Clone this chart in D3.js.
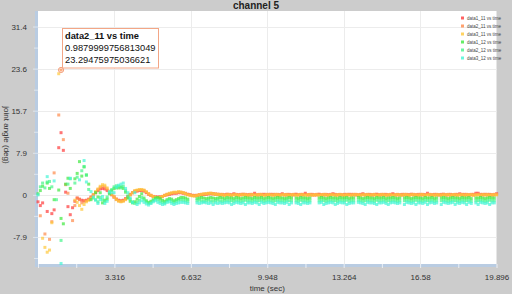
<!DOCTYPE html>
<html>
<head>
<meta charset="utf-8">
<script src="https://cdn.jsdelivr.net/npm/d3@7"></script>
<style>
html,body{margin:0;padding:0;background:#ccc;}
svg{display:block;font-family:"Liberation Sans",Arial,sans-serif;}
</style>
</head>
<body>
<div id="chart"></div>
<script>
//DATA
var title = "channel 5";
var xLabel = "time (sec)";
var yLabel = "joint angle (deg)";

var xTicks = [0, 3.316, 6.632, 9.948, 13.264, 16.58, 19.896];
var xTickLabels = ["", "3.316", "6.632", "9.948", "13.264", "16.58", "19.896"];
var xMinor = [1.658, 4.974, 8.29, 11.606, 14.922, 18.238];
var yTicks = [-7.85, 0, 7.85, 15.7, 23.55, 31.4];
var yTickLabels = ["-7.9", "0", "7.9", "15.7", "23.6", "31.4"];
var yMinor = [-11.775, -3.925, 3.925, 11.775, 19.625, 27.475];

var sampleStep = 0.1; //sec between samples

var seriesNames = ["data1_11 vs time", "data2_11 vs time", "data3_11 vs time",
                   "data1_12 vs time", "data2_12 vs time", "data3_12 vs time"];

var data1_11 = [
  -1.3,-2.0,-1.5,null,-3.1,null,-3.5,-2.8,null,8.8,11.6,8.3,0.5,-2.2,-3.7,-2.4,-1.2,-0.6,-0.8,-1.0,
  -1.1,-1.0,-0.8,-0.4,0.0,0.4,0.8,1.1,1.2,1.1,0.8,0.4,0.0,-0.4,-0.8,-1.0,-1.1,-1.0,-0.7,-0.3,
  0.1,0.4,0.6,0.7,0.8,0.8,0.7,0.4,0.1,-0.1,-0.3,-0.4,-0.4,-0.4,-0.3,-0.1,0.0,0.1,0.2,0.3,
  0.3,0.4,0.4,0.3,0.2,0.1,0,-0.1,-0.1,-0.1,0,0,0.1,0.1,0.2,0.2,0.2,0.1,0.1,0,
  0,0,0.1,0,0,0.2,0,0,0,0.1,0,0,0,0,0.3,0,0,0,0.1,0,
  0,0.1,0,0,0,0,0.2,0,0,0,0,0,0.1,0,0,0,0.3,0,0,0,
  0,0,0.1,0,0,0,0,0,0.2,0,0,0,0,0,0,0.1,0,0,0,0,
  0,0.2,0,0,0,0,0,0.1,0,0,0,0,0,0,0.2,0,0,0,0,0,
  0,0,0.1,0,0,0,0,0,0,0.3,0,0,0,0,0,0,0.1,0,0,0,
  0,0,0,0.2,0,0,0,0,0,0,0.3,0.3,0,0,0.1,0,0,0,0,0.2
];
var data2_11 = [
  null,-3.9,null,-7.3,null,-8.3,-5.0,4.1,null,14.9,23.3,10.3,1.9,0.3,null,-4.8,-2.0,-0.6,-0.9,-1.5,
  -1.2,-1.1,-0.9,-0.5,0.0,0.5,1.0,1.4,1.6,1.5,1.1,0.6,0.1,-0.4,-0.8,-1.1,-1.2,-1.1,-0.8,-0.4,
  0.0,0.4,0.7,0.8,0.9,0.9,0.8,0.5,0.2,-0.1,-0.3,-0.4,-0.5,-0.4,-0.3,-0.1,0.1,0.2,0.3,0.4,
  0.4,0.5,0.5,0.4,0.3,0.1,0,-0.1,-0.2,-0.1,0,0.1,0.1,0.2,0.2,0.3,0.2,0.2,0.1,0.1,
  0.1,0,0.1,0.1,0,0.1,0.1,0,0.1,0.1,0.1,0,0.1,0.1,0.1,0,0.1,0.1,0,0.1,
  0.1,0,0.1,0.1,0.1,0,0.1,0,0.1,0.1,0,0.1,0.1,0,0.1,0.1,0.1,0,0.1,0.1,
  0,0.1,0.1,0,0.1,0.1,0,0.1,0.1,0.1,0,0.1,0,0.1,0.1,0,0.1,0.1,0.1,0,
  0.1,0.1,0,0.1,0.1,0,0.1,0.1,0,0.1,0.1,0.1,0,0.1,0.1,0,0.1,0,0.1,0.1,
  0.1,0,0.1,0.1,0,0.1,0.1,0.1,0,0.1,0.1,0,0.1,0.1,0,0.1,0.1,0,0.1,0.1,
  0,0.1,0.1,0,0.1,0.1,0.1,0,0.1,0.1,0,0.1,0.1,0.1,0,0.1,0.1,0,0.1,0.1
];
var data3_11 = [
  null,null,-8.1,-9.8,-10.7,-10.3,-5.2,null,null,22.6,null,null,null,null,null,null,-1.0,-1.4,-2.0,-2.7,
  -1.8,-1.3,-1.0,-0.6,0.0,0.6,1.1,1.6,1.9,1.8,1.3,0.7,0.1,-0.4,-0.9,-1.2,-1.3,-1.2,-0.9,-0.5,
  0.0,0.4,0.8,0.9,1.0,1.0,0.9,0.6,0.2,-0.1,-0.3,-0.5,-0.5,-0.5,-0.3,-0.1,0.1,0.3,0.4,0.5,
  0.5,0.6,0.5,0.4,0.2,0,-0.1,-0.2,-0.2,-0.1,0,0.1,0.2,0.2,0.3,0.3,0.2,0.1,0.1,0,
  0,-0.1,0,0,-0.1,0,0,-0.1,0,0,0,-0.1,0,0,-0.1,0,0,0,-0.1,0,
  0,0,-0.1,0,0,-0.1,0,0,0,-0.1,0,0,-0.1,0,0,0,-0.1,0,0,-0.1,
  0,0,-0.1,0,0,0,-0.1,0,0,-0.1,0,0,0,-0.1,0,0,-0.1,0,0,0,
  -0.1,0,0,0,-0.1,0,0,-0.1,0,0,0,-0.1,0,0,-0.1,0,0,0,-0.1,0,
  0,-0.1,0,0,0,-0.1,0,0,-0.1,0,0,0,-0.1,0,0,-0.1,0,0,0,-0.1,
  0,0,-0.1,0,0,-0.1,0,0,0,-0.1,0,0,-0.1,0,0,0,-0.1,0,0,0
];
var data1_12 = [
  0.2,0.8,1.6,null,2.2,1.2,null,-0.9,null,0.9,-4.4,-5.4,2.0,3.1,1.2,null,3.0,4.0,6.2,3.5,
  5.2,3.7,2.0,-0.9,null,0.4,-0.4,0.4,-1.5,-1.0,-0.8,0.2,0.8,1.2,1.3,1.3,1.5,1.2,0.5,-0.6,
  -1.2,-1.5,-1.3,-0.8,-0.3,0.2,-0.6,-1.1,-1.4,-1.2,-0.9,-0.6,-0.5,-0.7,-1.0,-1.2,-0.9,-0.7,-0.8,-1.1,
  -0.9,-0.7,-0.5,-0.5,-0.6,-0.8,null,null,null,-0.7,-0.6,-0.5,-0.6,-0.7,-0.6,-0.5,-0.6,-0.7,-0.6,-0.5,
  -0.6,-0.7,-0.5,-0.6,-0.6,-0.7,-0.5,-0.6,-0.7,-0.6,-0.5,-0.6,-0.6,-0.7,-0.5,-0.6,-0.6,-0.5,-0.7,-0.6,
  -0.5,-0.6,-0.7,-0.6,-0.5,-0.6,-0.6,-0.7,-0.6,-0.5,-0.6,null,-0.6,-0.7,-0.5,-0.6,-0.6,-0.7,-0.6,null,
  null,null,-0.6,-0.5,-0.6,-0.7,-0.6,-0.5,-0.6,-0.6,-0.7,-0.5,-0.6,-0.6,-0.5,-0.7,-0.6,-0.6,null,-0.5,
  -0.6,-0.7,-0.6,-0.5,-0.6,-0.6,-0.7,-0.5,-0.6,-0.6,-0.5,-0.7,-0.6,-0.6,-0.5,-0.6,-0.7,-0.6,null,-0.6,
  -0.5,-0.6,-0.7,-0.6,-0.5,-0.6,-0.6,-0.7,-0.5,-0.6,-0.6,-0.5,-0.7,-0.6,null,-0.6,-0.5,-0.6,-0.7,-0.6,
  -0.5,-0.6,-0.6,-0.7,-0.5,-0.6,-0.6,-0.5,-0.7,null,-0.6,-0.6,-0.5,-0.6,-0.7,-0.6,-0.5,-0.6,-0.6,null
];
var data2_12 = [
  null,1.5,2.2,1.3,2.4,2.5,1.5,null,-0.9,null,-8.5,null,null,2.0,3.0,null,2.2,3.3,null,4.5,
  5.3,3.7,1.0,null,-0.6,-0.9,-1.3,-0.5,-0.9,-1.2,-0.4,0.4,1.0,1.5,1.7,1.6,1.3,1.6,0.8,-0.2,
  -0.8,-1.3,-1.6,-1.4,-1.0,-0.5,-0.9,-1.3,-1.6,-1.5,-1.1,-0.8,-0.9,-1.2,-1.4,-1.5,-1.1,-0.9,-1.2,-1.4,
  -1.2,-1.0,-0.9,-1.0,-1.1,-1.2,null,null,null,-1.1,-1.0,-1.1,-1.2,-1.1,-1.0,-1.1,-1.2,-1.1,-1.0,-1.1,
  -1.2,-1.1,-1.0,-1.1,-1.1,-1.2,-1.0,-1.1,-1.2,-1.1,-1.0,-1.1,-1.1,-1.2,-1.0,-1.1,-1.1,-1.0,-1.2,-1.1,
  -1.0,-1.1,-1.2,-1.1,-1.0,-1.1,-1.1,-1.2,-1.0,-1.1,-1.1,null,-1.1,-1.2,-1.0,-1.1,-1.1,-1.2,-1.1,null,
  null,null,-1.1,-1.0,-1.1,-1.2,-1.1,-1.0,-1.1,-1.1,-1.2,-1.0,-1.1,-1.1,-1.0,-1.2,-1.1,-1.1,null,-1.0,
  -1.1,-1.2,-1.1,-1.0,-1.1,-1.1,-1.2,-1.0,-1.1,-1.1,-1.0,-1.2,-1.1,-1.1,-1.0,-1.1,-1.2,-1.1,null,-1.1,
  -1.0,-1.1,-1.2,-1.1,-1.0,-1.1,-1.1,-1.2,-1.0,-1.1,-1.1,-1.0,-1.2,-1.1,null,-1.1,-1.0,-1.1,-1.2,-1.1,
  -1.0,-1.1,-1.1,-1.2,-1.0,-1.1,-1.1,-1.0,-1.2,null,-1.1,-1.1,-1.0,-1.1,-1.2,-1.1,-1.0,-1.1,-1.1,null
];
var data3_12 = [
  0.0,null,null,null,3.4,null,null,2.6,null,null,-12.8,null,null,null,3.1,null,null,null,2.8,null,
  6.4,2.4,null,0.6,-0.4,-1.0,-1.6,-0.9,-0.3,-1.6,-1.2,0.6,0.4,0.4,1.4,1.8,2.0,2.2,1.2,0.4,
  -0.6,-1.4,0.4,-1.8,-1.5,-1.1,-1.4,-1.7,-1.9,-1.6,-1.3,-1.1,-1.4,-1.6,-1.8,-1.7,-1.4,-1.3,-1.6,-1.8,
  -1.6,-1.5,-1.4,-1.4,-1.5,-1.6,null,null,null,-1.5,-1.6,-1.5,-1.4,-1.5,-1.6,-1.5,-1.8,-1.5,-1.6,-1.5,
  -1.6,-1.5,-1.4,-1.5,-1.8,-1.6,-1.4,-1.5,-1.6,-1.5,-1.8,-1.5,-1.5,-1.6,-1.4,-1.5,-1.8,-1.4,-1.6,-1.5,
  -1.4,-1.5,-1.6,-1.8,-1.4,-1.5,-1.5,-1.6,-1.4,-1.8,-1.5,null,-1.5,-1.6,-1.8,-1.5,-1.5,-1.6,-1.5,null,
  null,null,-1.5,-1.4,-1.8,-1.6,-1.5,-1.4,-1.5,-1.8,-1.6,-1.4,-1.5,-1.5,-1.8,-1.6,-1.5,-1.5,null,-1.4,
  -1.5,-1.6,-1.8,-1.4,-1.5,-1.5,-1.6,-1.8,-1.5,-1.5,-1.4,-1.6,-1.8,-1.5,-1.4,-1.5,-1.6,-1.5,null,-1.8,
  -1.4,-1.5,-1.6,-1.5,-1.8,-1.5,-1.5,-1.6,-1.4,-1.8,-1.5,-1.4,-1.6,-1.5,null,-1.8,-1.4,-1.5,-1.6,-1.5,
  -1.4,-1.8,-1.5,-1.6,-1.4,-1.5,-1.8,-1.4,-1.6,null,-1.5,-1.8,-1.4,-1.5,-1.6,-1.5,-1.8,-1.5,-1.5,null
];
var seriesValues = [data1_11, data2_11, data3_11, data1_12, data2_12, data3_12];

//tooltip shown on the chart
var tipSeries = 1, tipIndex = 10;
var tipLines = ["data2_11 vs time", "0.9879999756813049", "23.29475975036621"];

//STYLE
var width = 512, height = 294;
var colors = ["#ff3b3b", "#ff8a4a", "#ffc83a", "#3fe83f", "#45f58a", "#45f5d5"];

var x = d3.scaleLinear().domain([0, 19.896]).range([38, 496.5]);
var y = d3.scaleLinear().domain([-12.9, 34.3]).range([264, 11]);

var svg = d3.select("#chart").append("svg")
  .attr("width", width)
  .attr("height", height);

svg.append("rect").attr("width", width).attr("height", height).attr("fill", "#cccccc");

var x0 = x.range()[0], x1 = x.range()[1], yb = y.range()[0], yt = y.range()[1];

//plot area
svg.append("rect")
  .attr("x", x0).attr("y", yt)
  .attr("width", x1 - x0).attr("height", yb - yt)
  .attr("fill", "#fff");

//grid
var grid = svg.append("g").attr("stroke", "#ececec").attr("stroke-width", 1);
grid.selectAll("line.v").data(xTicks.slice(1, -1)).join("line")
  .attr("class", "v")
  .attr("x1", d => Math.round(x(d)) + 0.5).attr("x2", d => Math.round(x(d)) + 0.5)
  .attr("y1", yt).attr("y2", yb);
grid.selectAll("line.h").data(yTicks).join("line")
  .attr("class", "h")
  .attr("x1", x0).attr("x2", x1)
  .attr("y1", d => Math.round(y(d)) + 0.5).attr("y2", d => Math.round(y(d)) + 0.5);

//axis strips
svg.append("rect").attr("x", x0 - 3).attr("y", yt).attr("width", 3).attr("height", yb - yt + 3).attr("fill", "#b9cce2");
svg.append("rect").attr("x", x0 - 3).attr("y", yb).attr("width", x1 - x0 + 3).attr("height", 3).attr("fill", "#b9cce2");

//x axis
var gx = svg.append("g").attr("transform", "translate(0," + yb + ")");
gx.call(d3.axisBottom(x).tickValues(xTicks).tickFormat((d, i) => xTickLabels[i]).tickSize(4).tickPadding(6));
gx.append("g").call(d3.axisBottom(x).tickValues(xMinor).tickFormat("").tickSize(4));
gx.selectAll(".domain").remove();
gx.selectAll("line").attr("stroke", "#e9eef4");
gx.selectAll("text").attr("fill", "#333").attr("font-size", 8).attr("font-family", "Liberation Sans, Arial, sans-serif");

//y axis
var gy = svg.append("g").attr("transform", "translate(" + x0 + ",0)");
gy.call(d3.axisLeft(y).tickValues(yTicks).tickFormat((d, i) => yTickLabels[i]).tickSize(5).tickPadding(6));
gy.append("g").call(d3.axisLeft(y).tickValues(yMinor).tickFormat("").tickSize(4));
gy.selectAll(".domain").remove();
gy.selectAll("line").attr("stroke", "#dde5ee");
gy.selectAll("text").attr("fill", "#333").attr("font-size", 8).attr("font-family", "Liberation Sans, Arial, sans-serif");

//points
var marks = svg.append("g");
seriesValues.forEach(function(vals, s){
  var pts = vals.map((v, i) => ({t: i * sampleStep, v: v})).filter(p => p.v != null);
  marks.append("g").attr("fill", colors[s]).attr("fill-opacity", 0.7)
    .selectAll("rect").data(pts).join("rect")
    .attr("x", p => x(p.t) - 1.5)
    .attr("y", p => y(p.v) - 1.5)
    .attr("width", 3).attr("height", 3);
});

//legend
var leg = svg.append("g").attr("transform", "translate(461,18)");
seriesNames.forEach(function(n, i){
  leg.append("rect").attr("x", 0).attr("y", i * 8 - 1.5).attr("width", 3).attr("height", 3).attr("fill", colors[i]).attr("fill-opacity", 0.8);
  leg.append("text").attr("x", 6).attr("y", i * 8 + 1.6).attr("font-size", 4.5).attr("fill", "#444").text(n);
});

//highlighted point + tooltip
var tx = x(tipIndex * sampleStep), ty = y(seriesValues[tipSeries][tipIndex]);
svg.append("circle").attr("cx", tx).attr("cy", ty).attr("r", 2.6)
  .attr("fill", "none").attr("stroke", "#f3a07c").attr("stroke-width", 1);

var tip = svg.append("g").attr("transform", "translate(62.5,28.5)");
tip.append("rect").attr("width", 96).attr("height", 39.5)
  .attr("fill", "#fff").attr("stroke", "#f3a686").attr("stroke-width", 1);
tip.selectAll("text").data(tipLines).join("text")
  .attr("x", 2.5)
  .attr("y", (d, i) => 10.5 + i * 12)
  .attr("font-size", 9.3)
  .attr("font-weight", (d, i) => i == 0 ? "bold" : "normal")
  .attr("fill", "#111")
  .text(d => d);

//titles
svg.append("text").attr("x", 256).attr("y", 9).attr("text-anchor", "middle")
  .attr("font-size", 10).attr("font-weight", "bold").attr("fill", "#222").text(title);
svg.append("text").attr("x", (x0 + x1) / 2).attr("y", 291).attr("text-anchor", "middle")
  .attr("font-size", 8).attr("fill", "#333").text(xLabel);
svg.append("text").attr("transform", "translate(4,135) rotate(90)").attr("text-anchor", "middle")
  .attr("font-size", 8).attr("fill", "#333").text(yLabel);
</script>
</body>
</html>
